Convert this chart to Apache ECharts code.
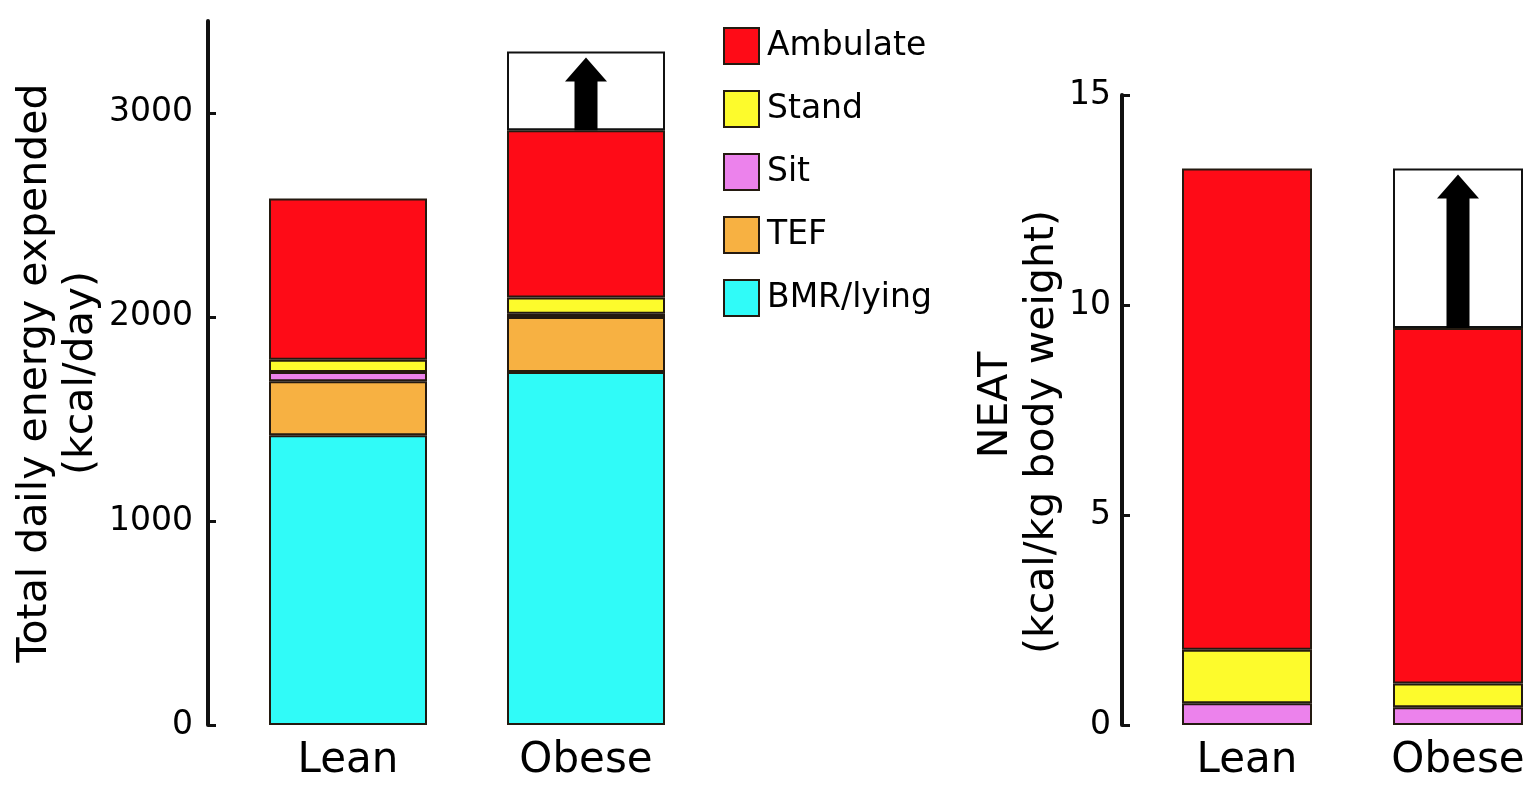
<!DOCTYPE html>
<html>
<head>
<meta charset="utf-8">
<script src="https://cdn.jsdelivr.net/npm/echarts@6/dist/echarts.min.js"></script>
<style>
html,body{margin:0;padding:0;background:#fff;}
#chart{width:1537px;height:787px;}
</style>
</head>
<body>
<div id="chart"></div>
<script>
// ---- data ----
const categories = ['Lean', 'Obese'];
// Left panel: total daily energy expended (kcal/day)
const bmr      = [1420, 1730];
const tef      = [265, 270];
const sit      = [45, 15];
const stand    = [60, 80];
const ambulate = [790, 820];
const increase = [null, 385];   // open (white) box above Obese bar
const leftTicks = [0, 1000, 2000, 3000];
// Right panel: NEAT (kcal/kg body weight)
const sitN      = [0.52, 0.42];
const standN    = [1.27, 0.57];
const ambulateN = [11.46, 8.46];
const increaseN = [null, 3.8];
const rightTicks = [0, 5, 10, 15];
const legendNames = ['Ambulate', 'Stand', 'Sit', 'TEF', 'BMR/lying'];

const colors = {
  'Ambulate': '#fe0b17',
  'Stand': '#fdfb2c',
  'Sit': '#ec82ec',
  'TEF': '#f7b142',
  'BMR/lying': '#30fbf8'
};

const FONT = 'DejaVu Sans';
const TXT = '#000';
const border = {borderColor: '#241a10', borderWidth: 2};

function sumAt(arrs, i) { return arrs.reduce((s, a) => s + (a[i] || 0), 0); }

// arrow data: [category index, base (top of filled stack), top of open box]
const arrowLeft = [];
const arrowRight = [];
categories.forEach((c, i) => {
  if (increase[i] != null) {
    const b = sumAt([bmr, tef, sit, stand, ambulate], i);
    arrowLeft.push([i, b, b + increase[i]]);
  }
  if (increaseN[i] != null) {
    const b = sumAt([sitN, standN, ambulateN], i);
    arrowRight.push([i, b, b + increaseN[i]]);
  }
});

function barSeries(name, data, axis, width) {
  return {
    name: name, type: 'bar', stack: 's' + axis,
    xAxisIndex: axis, yAxisIndex: axis,
    barWidth: width, data: data,
    itemStyle: Object.assign({color: colors[name] || '#ffffff'}, name in colors ? border : {borderColor: '#111', borderWidth: 2}),
    emphasis: {disabled: true}, animation: false
  };
}

function arrowSeries(data, axis) {
  return {
    type: 'custom', xAxisIndex: axis, yAxisIndex: axis, z: 10, silent: true, animation: false,
    data: data,
    renderItem: function (params, api) {
      const x = api.value(0);
      const pb = api.coord([x, api.value(1)]);
      const pt = api.coord([x, api.value(2)]);
      const cx = pb[0];
      const tip = pt[1] + 6, base = pb[1];
      const hw = 21, sw = 11.5, hh = 24;
      return {
        type: 'polygon',
        shape: {points: [
          [cx, tip], [cx + hw, tip + hh], [cx + sw, tip + hh], [cx + sw, base],
          [cx - sw, base], [cx - sw, tip + hh], [cx - hw, tip + hh]
        ]},
        style: {fill: '#000'}
      };
    }
  };
}

const axisLabelStyle = {fontFamily: FONT, fontSize: 33, color: TXT, formatter: v => String(v)};

const option = {
  backgroundColor: '#ffffff',
  animation: false,
  textStyle: {fontFamily: FONT},
  legend: {
    data: legendNames, orient: 'vertical', left: 718, top: 22,
    icon: 'rect', itemWidth: 35, itemHeight: 36, itemGap: 25,
    textStyle: {fontFamily: FONT, fontSize: 33, color: TXT, padding: [0, 0, 0, 3]},
    selectedMode: false
  },
  grid: [
    {left: 229, width: 476, top: 21, bottom: 62},
    {left: 1247, width: 211, top: 95, bottom: 62}
  ],
  xAxis: [
    {
      type: 'category', gridIndex: 0, data: categories,
      axisLine: {show: false}, axisTick: {show: false},
      axisLabel: {fontFamily: FONT, fontSize: 42, color: TXT, margin: 15}
    },
    {
      type: 'category', gridIndex: 1, data: categories, boundaryGap: false,
      axisLine: {show: false}, axisTick: {show: false},
      axisLabel: {fontFamily: FONT, fontSize: 42, color: TXT, margin: 15}
    }
  ],
  yAxis: [
    {
      type: 'value', gridIndex: 0, min: 0, max: 3450, offset: 21,
      axisLine: {show: true, lineStyle: {color: '#111', width: 4}},
      axisTick: {show: true, inside: true, length: 8, lineStyle: {color: '#111', width: 3}, customValues: leftTicks},
      axisLabel: Object.assign({margin: 15, customValues: leftTicks}, axisLabelStyle),
      splitLine: {show: false},
      name: 'Total daily energy expended\n(kcal/day)',
      nameLocation: 'middle', nameGap: 104,
      nameTextStyle: {fontFamily: FONT, fontSize: 41, color: TXT, lineHeight: 46}
    },
    {
      type: 'value', gridIndex: 1, min: 0, max: 15, interval: 5, offset: 125,
      axisLine: {show: true, lineStyle: {color: '#111', width: 4}},
      axisTick: {show: true, inside: true, length: 8, lineStyle: {color: '#111', width: 3}, customValues: rightTicks},
      axisLabel: Object.assign({margin: 11, customValues: rightTicks}, axisLabelStyle),
      splitLine: {show: false},
      name: '{a|NEAT}\n{b|(kcal/kg body weight)}',
      nameLocation: 'middle', nameGap: 56,
      nameTextStyle: {
        fontFamily: FONT, fontSize: 41, color: TXT, lineHeight: 46,
        padding: [0, 44, 0, 0],
        rich: {
          a: {fontFamily: FONT, fontSize: 41, color: TXT, lineHeight: 46, padding: [0, 0, 0, 54]},
          b: {fontFamily: FONT, fontSize: 41, color: TXT, lineHeight: 46}
        }
      }
    }
  ],
  series: [
    barSeries('BMR/lying', bmr, 0, 158),
    barSeries('TEF', tef, 0, 158),
    barSeries('Sit', sit, 0, 158),
    barSeries('Stand', stand, 0, 158),
    barSeries('Ambulate', ambulate, 0, 158),
    barSeries('increase', increase, 0, 158),
    arrowSeries(arrowLeft, 0),
    barSeries('Sit', sitN, 1, 130),
    barSeries('Stand', standN, 1, 130),
    barSeries('Ambulate', ambulateN, 1, 130),
    barSeries('increaseN', increaseN, 1, 130),
    arrowSeries(arrowRight, 1)
  ]
};

const chart = echarts.init(document.getElementById('chart'), null, {renderer: 'canvas'});
chart.setOption(option);
</script>
</body>
</html>
